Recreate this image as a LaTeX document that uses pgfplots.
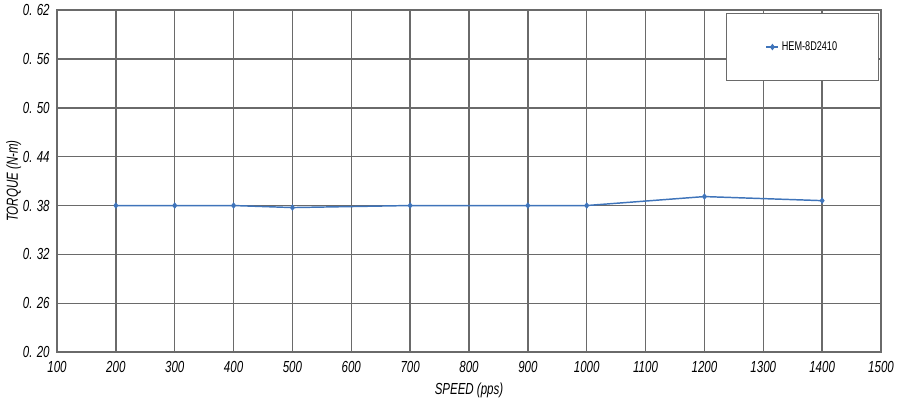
\documentclass[border=0pt]{standalone}
\usepackage{pgfplots}
\pgfplotsset{compat=1.18}
\usepackage{fontspec}
\setmainfont{Liberation Sans}[FakeStretch=0.72]
\definecolor{serblue}{HTML}{3F74BA}
\definecolor{gridgray}{HTML}{6A6A6A}
\begin{document}
\begin{tikzpicture}
\begin{axis}[
    scale only axis,
    width=618pt, height=256.5pt,
    xmin=100, xmax=1500,
    ymin=0.20, ymax=0.62,
    xtick={100,200,...,1500},
    ytick={0.20,0.26,0.32,0.38,0.44,0.50,0.56,0.62},
    yticklabels={0. 20,0. 26,0. 32,0. 38,0. 44,0. 50,0. 56,0. 62},
    xticklabel style={font=\fontsize{12}{13}\selectfont\itshape, yshift=-3.5pt},
    yticklabel style={font=\fontsize{12}{13}\selectfont\itshape, xshift=-2pt},
    /pgf/number format/assume math mode=true,
    /pgf/number format/1000 sep={},
    xlabel={SPEED (pps)},
    ylabel={TORQUE (N-m)},
    xlabel style={font=\fontsize{12}{13}\selectfont\itshape, yshift=-1pt},
    ylabel style={font=\fontsize{12}{13}\selectfont\itshape, yshift=-5.5pt},
    major tick length=0pt,
    grid=major,
    grid style={gridgray, line width=1.1pt},
    axis line style={gridgray, line width=1.1pt},
    legend style={at={(1,1)}, anchor=north east, xshift=-1.5pt, yshift=-2.25pt,
        draw=gridgray, line width=0.8pt, inner xsep=29pt, inner ysep=19pt,
        font=\fontsize{9.5}{10}\selectfont},
    legend image code/.code={
        \draw[mark repeat=2,mark phase=2,#1] plot coordinates {(0cm,0cm) (0.16cm,0cm) (0.32cm,0cm)};
    },
]
\addplot[color=serblue, line width=1.1pt, mark=diamond*, mark size=1.6pt]
    coordinates {
    (200,0.380)(300,0.380)(400,0.380)(500,0.3775)(700,0.380)
    (900,0.380)(1000,0.380)(1200,0.391)(1400,0.386)
    };
\legend{HEM-8D2410}
\end{axis}
\path ([shift={(-42.75pt,-37.5pt)}]current axis.south west)
    rectangle ([shift={(27pt,7.5pt)}]current axis.north east);
\end{tikzpicture}
\end{document}
